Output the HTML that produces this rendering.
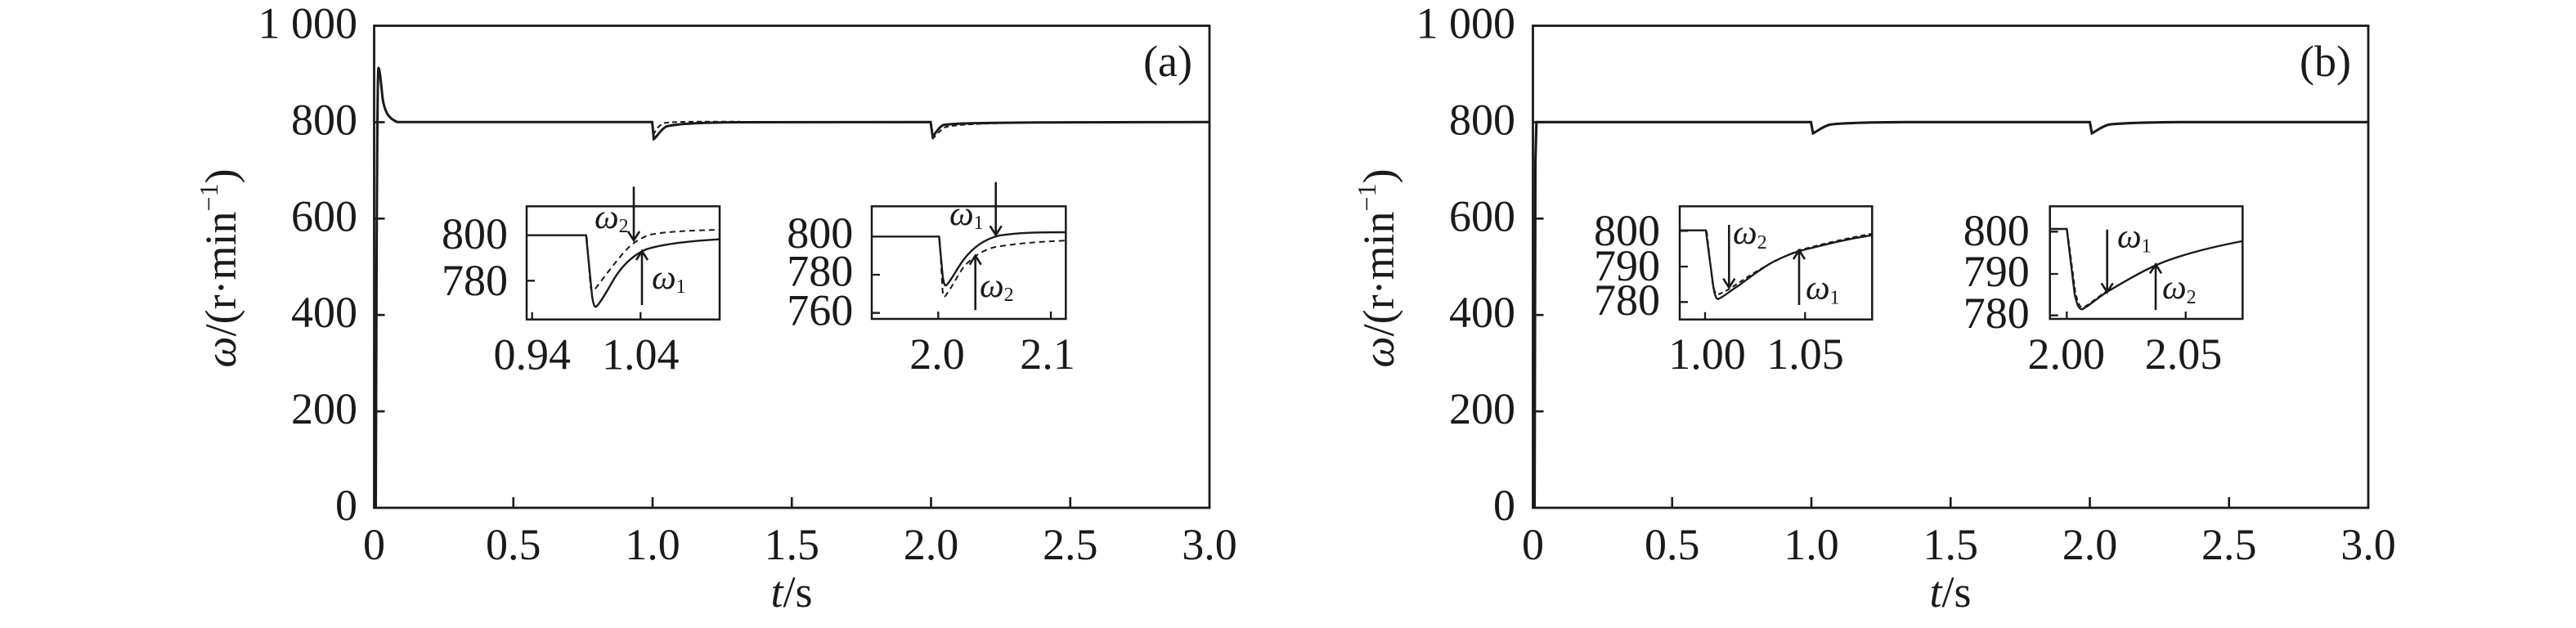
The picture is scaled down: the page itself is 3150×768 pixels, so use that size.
<!DOCTYPE html>
<html>
<head>
<meta charset="utf-8">
<style>
html,body{margin:0;padding:0;background:#fff;}
svg{display:block;}
text{font-family:"Liberation Serif","DejaVu Serif",serif;fill:#1a1a1a;}
</style>
</head>
<body>
<svg width="3150" height="768" viewBox="0 0 3150 768" xmlns="http://www.w3.org/2000/svg">
<rect x="0" y="0" width="3150" height="768" fill="#fff"/>

<!-- ================= PANEL A ================= -->
<g stroke="#1a1a1a" fill="none">
  <rect x="457.5" y="31.5" width="1021.5" height="589.5" stroke-width="2.8"/>
  <path d="M457.5 503.1h13 M457.5 385.2h13 M457.5 267.3h13 M457.5 149.4h13" stroke-width="2.6"/>
  <path d="M627.75 621v-13 M798 621v-13 M968.25 621v-13 M1138.5 621v-13 M1308.75 621v-13" stroke-width="2.6"/>
</g>
<g font-size="54" text-anchor="end">
  <text x="437" y="46.5">1 000</text>
  <text x="437" y="164.4">800</text>
  <text x="437" y="282.3">600</text>
  <text x="437" y="400.2">400</text>
  <text x="437" y="518.1">200</text>
  <text x="437" y="636">0</text>
</g>
<g font-size="54" text-anchor="middle">
  <text x="457.5" y="684">0</text>
  <text x="627.75" y="684">0.5</text>
  <text x="798" y="684">1.0</text>
  <text x="968.25" y="684">1.5</text>
  <text x="1138.5" y="684">2.0</text>
  <text x="1308.75" y="684">2.5</text>
  <text x="1479" y="684">3.0</text>
</g>
<text x="968" y="742" font-size="54" text-anchor="middle"><tspan font-style="italic">t</tspan>/s</text>
<text x="1458" y="93" font-size="54" text-anchor="end">(a)</text>
<text transform="translate(288,328) rotate(-90)" font-size="54" text-anchor="middle"><tspan font-style="italic">ω</tspan>/(r·min<tspan font-size="32" dy="-22">−1</tspan><tspan dy="22">)</tspan></text>

<!-- main curves A -->
<path d="M459.5 621 L460.5 320 C461.3 160 461.9 83 462.8 83 C464.2 83 465.8 100 467.8 120 C470.5 137 475 145 486 149.3 L797.5 149.3 L799.5 170 C803 168 807 159 815 154.5 C830 151 860 150 900 149.5 L1138 149.3 L1140.5 167 C1143 165 1146.5 157 1153 153 C1166 150.3 1200 149.5 1479 149.3" stroke="#1a1a1a" stroke-width="3" fill="none"/>
<path d="M799 165 C801 161 805 153 812 150.5 C822 148.8 845 148.6 905 148.8" stroke="#1a1a1a" stroke-width="2" stroke-dasharray="6 4" fill="none"/>
<path d="M1140 170 C1143 168 1148 160 1156 155.5 C1170 152 1200 151 1255 150" stroke="#1a1a1a" stroke-width="2" stroke-dasharray="6 4" fill="none"/>

<!-- inset a1 -->
<g stroke="#1a1a1a" fill="none">
  <rect x="644" y="252.3" width="236" height="138.4" stroke-width="2.5"/>
  <path d="M644 343.3h10 M650.7 390.7v-9 M783.3 390.7v-9" stroke-width="2.3"/>
  <path d="M645 287.7 L716.7 287.7 L724 362 C725.5 372 727 376 729 375 C733 372 740 360 748 346 C758 328 772 313 790 305 C810 298.5 840 295 879 292.7" stroke-width="2.4"/>
  <path d="M717.5 290 L722 350 C723 356 724.5 358 726.5 355 C732 348 745 330 760 312 C770 300 780 292 795 287 C815 283 845 282 879 281" stroke-width="2" stroke-dasharray="7 5"/>
  <path d="M775 228.3 V294 M768 283 L775 294 L782 283" stroke-width="2.6"/>
  <path d="M785 373 V307 M778 318 L785 307 L792 318" stroke-width="2.6"/>
</g>
<g font-size="54" text-anchor="end">
  <text x="621" y="304">800</text>
  <text x="621" y="361">780</text>
</g>
<g font-size="54" text-anchor="middle">
  <text x="650.7" y="451.7">0.94</text>
  <text x="783.3" y="451.7">1.04</text>
</g>
<text x="727" y="279" font-size="42" font-style="italic">ω<tspan font-size="24" font-style="normal" dy="5">2</tspan></text>
<text x="797" y="353" font-size="42" font-style="italic">ω<tspan font-size="24" font-style="normal" dy="5">1</tspan></text>

<!-- inset a2 -->
<g stroke="#1a1a1a" fill="none">
  <rect x="1066" y="252.3" width="237.3" height="137.7" stroke-width="2.5"/>
  <path d="M1066 336h10 M1066 382.7h10 M1147.3 390v-9 M1285 390v-9" stroke-width="2.3"/>
  <path d="M1067 289.3 L1148.3 289.3 L1152.5 335 C1153.5 345 1155 350 1157 349 C1162 345 1168 332 1178 318 C1190 302 1205 292 1222 288 C1245 284.5 1270 284 1302 284" stroke-width="2.4"/>
  <path d="M1149 292 L1152 345 C1152.5 358 1153.5 364 1155 363 C1160 358 1168 342 1178 327 C1188 315 1200 307 1215 302.5 C1240 298 1270 295.5 1302 294.3" stroke-width="2" stroke-dasharray="7 5"/>
  <path d="M1217.7 222.7 V287.3 M1210.7 276.3 L1217.7 287.3 L1224.7 276.3" stroke-width="2.6"/>
  <path d="M1192.7 379.3 V312.7 M1185.7 323.7 L1192.7 312.7 L1199.7 323.7" stroke-width="2.6"/>
</g>
<g font-size="54" text-anchor="end">
  <text x="1043.3" y="303">800</text>
  <text x="1043.3" y="349.7">780</text>
  <text x="1043.3" y="397.3">760</text>
</g>
<g font-size="54" text-anchor="middle">
  <text x="1146" y="451">2.0</text>
  <text x="1281" y="451">2.1</text>
</g>
<text x="1161" y="275" font-size="42" font-style="italic">ω<tspan font-size="24" font-style="normal" dy="5">1</tspan></text>
<text x="1198" y="363" font-size="42" font-style="italic">ω<tspan font-size="24" font-style="normal" dy="5">2</tspan></text>

<!-- ================= PANEL B ================= -->
<g stroke="#1a1a1a" fill="none">
  <rect x="1874.5" y="31.5" width="1021.5" height="589.5" stroke-width="2.8"/>
  <path d="M1874.5 503.1h13 M1874.5 385.2h13 M1874.5 267.3h13 M1874.5 149.4h13" stroke-width="2.6"/>
  <path d="M2044.75 621v-13 M2215 621v-13 M2385.25 621v-13 M2555.5 621v-13 M2725.75 621v-13" stroke-width="2.6"/>
</g>
<g font-size="54" text-anchor="end">
  <text x="1853" y="46.5">1 000</text>
  <text x="1853" y="164.4">800</text>
  <text x="1853" y="282.3">600</text>
  <text x="1853" y="400.2">400</text>
  <text x="1853" y="518.1">200</text>
  <text x="1853" y="636">0</text>
</g>
<g font-size="54" text-anchor="middle">
  <text x="1874.5" y="684">0</text>
  <text x="2044.75" y="684">0.5</text>
  <text x="2215" y="684">1.0</text>
  <text x="2385.25" y="684">1.5</text>
  <text x="2555.5" y="684">2.0</text>
  <text x="2725.75" y="684">2.5</text>
  <text x="2896" y="684">3.0</text>
</g>
<text x="2385" y="742" font-size="54" text-anchor="middle"><tspan font-style="italic">t</tspan>/s</text>
<text x="2875" y="93" font-size="54" text-anchor="end">(b)</text>
<text transform="translate(1704,328) rotate(-90)" font-size="54" text-anchor="middle"><tspan font-style="italic">ω</tspan>/(r·min<tspan font-size="32" dy="-22">−1</tspan><tspan dy="22">)</tspan></text>

<!-- main curve B -->
<path d="M1876.5 621 L1877.5 200 L1878.8 149.3 L2214.5 149.3 L2217 163 C2221 161.5 2227 155.5 2238 152.3 C2258 150 2290 149.5 2330 149.3 L2555.5 149.3 L2558 163 C2562 161.5 2568 155.5 2579 152.3 C2599 150 2631 149.5 2671 149.3 L2896 149.3" stroke="#1a1a1a" stroke-width="3.1" fill="none"/>

<!-- inset b1 -->
<g stroke="#1a1a1a" fill="none">
  <rect x="2054" y="252.3" width="235.3" height="138.4" stroke-width="2.5"/>
  <path d="M2054 282.3h10 M2054 326h10 M2054 369.3h10 M2085 390.7v-9 M2207.3 390.7v-9" stroke-width="2.3"/>
  <path d="M2055 281.7 L2086 281.7 L2095 350 C2097 362 2099 366 2101 365.7 C2108 363 2115 356 2125 350 C2140 339 2150 331 2165 322 C2180 314 2195 308 2210 304.5 C2240 297 2260 292 2289 287.7" stroke-width="2.4"/>
  <path d="M2087 283 L2094 345 C2096 356 2098 360 2101 360 C2110 357 2120 350 2135 340 C2150 330 2175 316 2200 306 C2230 298 2260 291 2288 286" stroke-width="2" stroke-dasharray="6 4"/>
  <path d="M2114.3 275 V351.7 M2107.3 340.7 L2114.3 351.7 L2121.3 340.7" stroke-width="2.6"/>
  <path d="M2200 373 V306 M2193 317 L2200 306 L2207 317" stroke-width="2.6"/>
</g>
<g font-size="54" text-anchor="end">
  <text x="2030" y="300">800</text>
  <text x="2030" y="343">790</text>
  <text x="2030" y="385">780</text>
</g>
<g font-size="54" text-anchor="middle">
  <text x="2087.5" y="451">1.00</text>
  <text x="2207.5" y="451">1.05</text>
</g>
<text x="2119" y="298" font-size="42" font-style="italic">ω<tspan font-size="24" font-style="normal" dy="6">2</tspan></text>
<text x="2208" y="365.5" font-size="42" font-style="italic">ω<tspan font-size="24" font-style="normal" dy="6">1</tspan></text>

<!-- inset b2 -->
<g stroke="#1a1a1a" fill="none">
  <rect x="2506.7" y="252.3" width="235.6" height="137.7" stroke-width="2.5"/>
  <path d="M2506.7 283.3h10 M2506.7 335h10 M2506.7 385.7h10 M2527.3 390v-9 M2672.7 390v-9" stroke-width="2.3"/>
  <path d="M2507.5 280 L2527.3 280 L2537 360 C2540 373 2542 378.3 2546 378.3 C2555 374 2565 364 2577 356.7 C2595 346 2615 334 2637 324 C2665 312 2700 303 2741.5 295" stroke-width="2.4"/>
  <path d="M2528 282 L2538 358 C2541 370 2543 376 2547 376 C2556 372 2566 362 2578 355" stroke-width="1.8" stroke-dasharray="6 4"/>
  <path d="M2576.7 280.7 V357.3 M2569.7 346.3 L2576.7 357.3 L2583.7 346.3" stroke-width="2.6"/>
  <path d="M2636 379.3 V323.3 M2629 334.3 L2636 323.3 L2643 334.3" stroke-width="2.6"/>
</g>
<g font-size="54" text-anchor="end">
  <text x="2481.7" y="300">800</text>
  <text x="2481.7" y="350">790</text>
  <text x="2481.7" y="401">780</text>
</g>
<g font-size="54" text-anchor="middle">
  <text x="2526.7" y="451">2.00</text>
  <text x="2670" y="451">2.05</text>
</g>
<text x="2589" y="302.5" font-size="42" font-style="italic">ω<tspan font-size="24" font-style="normal" dy="6">1</tspan></text>
<text x="2644" y="365" font-size="42" font-style="italic">ω<tspan font-size="24" font-style="normal" dy="6">2</tspan></text>

</svg>
</body>
</html>
